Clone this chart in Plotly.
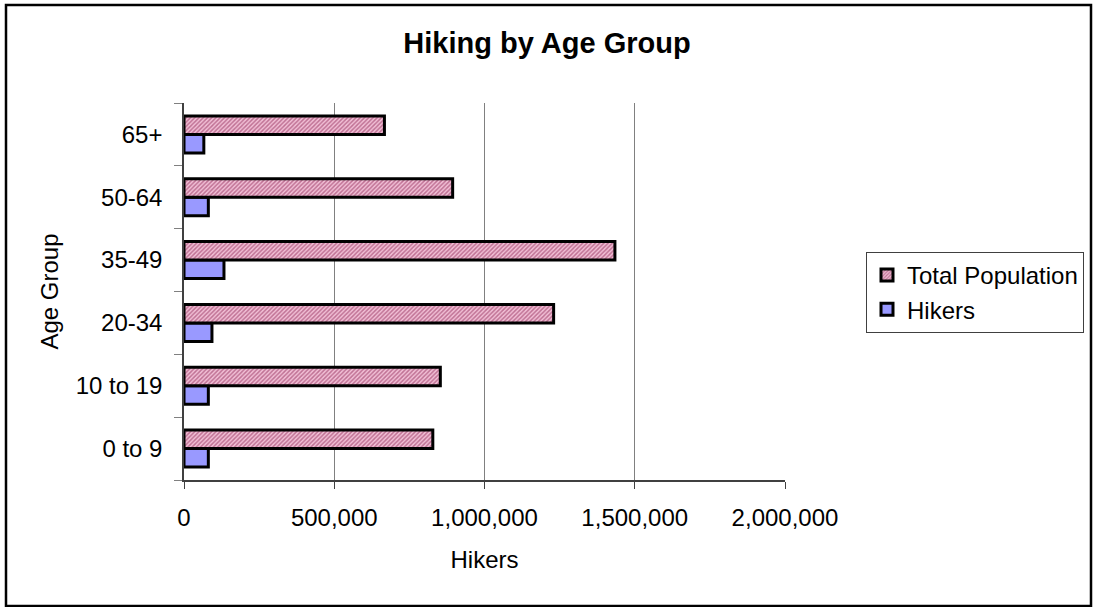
import plotly.graph_objects as go

categories = ["0 to 9", "10 to 19", "20-34", "35-49", "50-64", "65+"]
total_population = [828000, 853000, 1230000, 1434000, 894000, 667000]
hikers = [81000, 81000, 93000, 133000, 81000, 66000]
x_ticks = [0, 500000, 1000000, 1500000, 2000000]

W, H = 1094, 607
L, R, T, B = 184, 1094 - 785, 103, 607 - 480
FONT = "Liberation Sans, Arial, sans-serif"

fig = go.Figure()
fig.add_trace(go.Bar(
    y=categories, x=hikers, orientation="h", name="Hikers",
    legendrank=2,
    marker=dict(color="#9999FF", line=dict(color="black", width=3)),
))
fig.add_trace(go.Bar(
    y=categories, x=total_population, orientation="h", name="Total Population",
    legendrank=1,
    marker=dict(color="#F2C0D6", line=dict(color="black", width=3),
                pattern=dict(shape="/", fgcolor="#8B2252", bgcolor="#F2C0D6",
                             size=3, solidity=0.5)),
))

pw = W - L - R
ph = H - T - B

fig.update_layout(
    width=W, height=H,
    margin=dict(l=L, r=R, t=T, b=B, autoexpand=False),
    paper_bgcolor="white", plot_bgcolor="white",
    font=dict(family=FONT, size=24, color="black"),
    barmode="group", bargap=0.41, bargroupgap=0,
    title=dict(text="<b>Hiking by Age Group</b>", x=0.5, xref="container", xanchor="center",
               y=1 - 43 / H, yref="container", yanchor="middle",
               font=dict(family=FONT, size=29, color="black")),
    xaxis=dict(
        range=[0, 2000000], tickvals=x_ticks, tickformat=",",
        showgrid=True, gridcolor="#808080", gridwidth=1,
        showline=True, linecolor="#404040", linewidth=1.5,
        ticks="outside", ticklen=7, tickcolor="#404040",
        zeroline=False, ticklabelstandoff=8,
        title=dict(text="Hikers", standoff=22, font=dict(size=24)),
        tickfont=dict(size=24), automargin=False,
    ),
    yaxis=dict(
        type="category", categoryorder="array", categoryarray=categories,
        tickson="boundaries", ticks="outside", ticklen=8, tickcolor="#808080",
        showline=True, linecolor="#404040", linewidth=1.5,
        showgrid=False, ticklabelstandoff=15,
        title=dict(text="Age Group", standoff=10, font=dict(size=24)),
        tickfont=dict(size=24), automargin=False,
    ),
    showlegend=True,
    legend=dict(
        x=(866 - L) / pw, y=(480 - 252) / ph, xanchor="left", yanchor="top",
        bgcolor="white", bordercolor="#404040", borderwidth=1,
        font=dict(family=FONT, size=24, color="black"),
        traceorder="normal", itemwidth=30,
    ),
    shapes=[dict(
        type="rect", xref="paper", yref="paper",
        x0=(6 - L) / pw, x1=(1091 - L) / pw,
        y0=(480 - 606) / ph, y1=(480 - 5) / ph,
        line=dict(color="black", width=2.5), fillcolor="rgba(0,0,0,0)", layer="below",
    )],
)

fig.write_html("out.html", config={"displayModeBar": False},
               post_script="document.body.style.margin='0px';document.body.style.overflow='hidden';")
